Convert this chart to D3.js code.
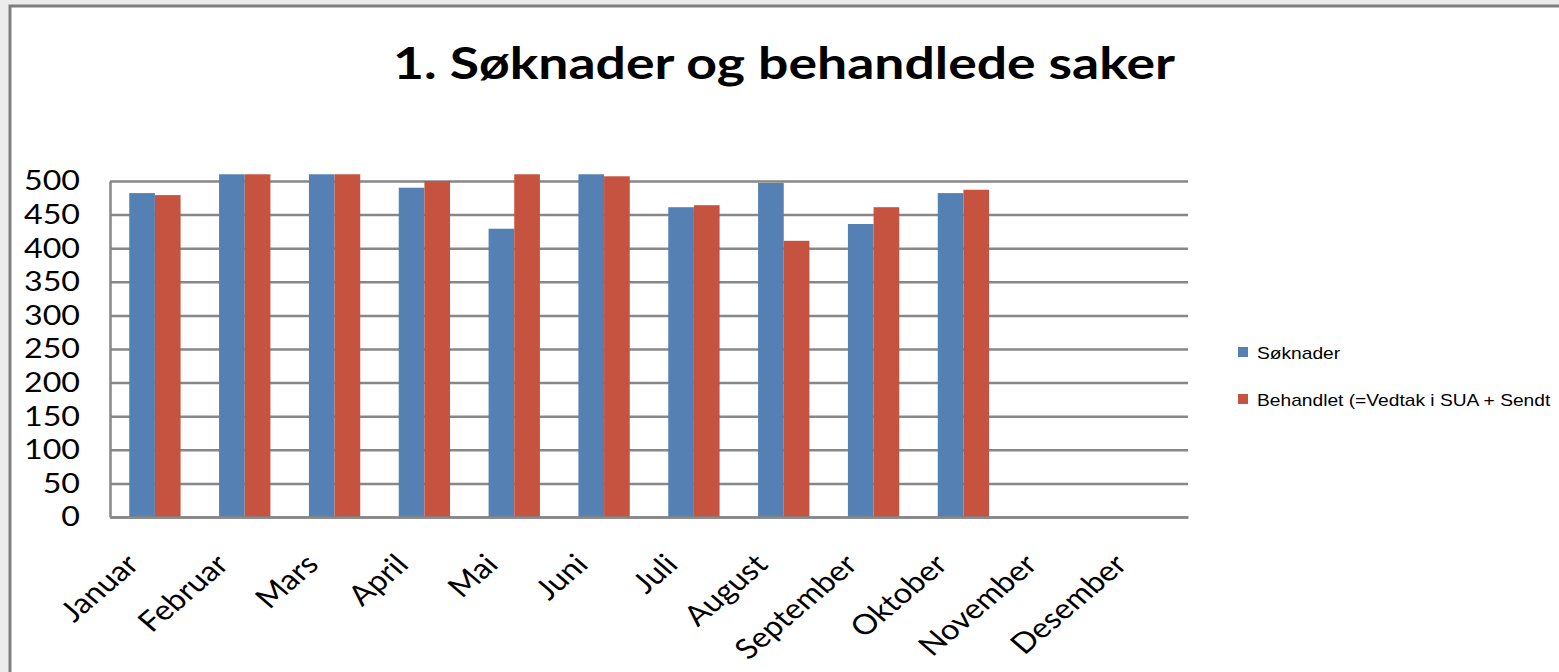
<!DOCTYPE html>
<html>
<head>
<meta charset="utf-8">
<script src="https://cdn.jsdelivr.net/npm/d3@7"></script>
<style>
  html, body { margin: 0; padding: 0; background: #ececec; }
  svg { display: block; }
</style>
</head>
<body>
<div id="chart"></div>
<script>
// data
var months = ["Januar", "Februar", "Mars", "April", "Mai", "Juni", "Juli",
              "August", "September", "Oktober", "November", "Desember"];
var soknader  = [482, 510, 510, 490, 429, 510, 461, 497, 436, 482, null, null];
var behandlet = [479, 510, 510, 500, 510, 507, 464, 411, 461, 487, null, null];
var seriesNames = ["Søknader", "Behandlet (=Vedtak i SUA + Sendt"];
var yTicks = [0, 50, 100, 150, 200, 250, 300, 350, 400, 450, 500];
var title = "1. Søknader og behandlede saker";

var svgWidth = 1559, svgHeight = 672;
var margin = { top: 181, left: 110 };
var width = 1188 - margin.left;
var height = 517 - margin.top;
var stretch = 1.17;   // the source picture is a bit wider than tall
var colors = ["#5580b4", "#c6533f"];

var svg = d3.select("#chart").append("svg")
    .attr("width", svgWidth)
    .attr("height", svgHeight);

// chart frame
svg.append("rect")
    .attr("x", 10).attr("y", 6)
    .attr("width", svgWidth + 20).attr("height", svgHeight + 20)
    .attr("fill", "#fff")
    .attr("stroke", "#7f7f7f")
    .attr("stroke-width", 3);

svg.append("text")
    .attr("x", 393).attr("y", 79)
    .attr("textLength", 782)
    .attr("lengthAdjust", "spacingAndGlyphs")
    .attr("font-family", "Lato, sans-serif")
    .attr("font-weight", "bold")
    .attr("font-size", 43)
    .attr("fill", "#000")
    .text(title);

var g = svg.append("g")
    .attr("transform", "translate(" + margin.left + "," + margin.top + ")");

var x0 = d3.scaleBand().domain(months).range([0, width])
    .paddingInner(1.5 / 3.5).paddingOuter(0.75 / 3.5);
var x1 = d3.scaleBand().domain([0, 1]).range([0, x0.bandwidth()]);
var y = d3.scaleLinear().domain([0, 500]).range([height, 0]);

// y axis + gridlines
var yAxis = g.append("g")
    .call(d3.axisLeft(y).tickValues(yTicks).tickSizeInner(-width).tickSizeOuter(0).tickPadding(30));
yAxis.selectAll("line").attr("stroke", "#878787").attr("stroke-width", 2.5);
yAxis.select(".domain").attr("stroke", "#878787").attr("stroke-width", 2.5);
yAxis.selectAll("text")
    .attr("x", -30 / stretch)
    .attr("transform", "scale(" + stretch + ",1)")
    .attr("font-family", "Lato, sans-serif")
    .attr("font-size", 27.5)
    .attr("fill", "#000");

// bars
var rows = months.map(function(m, i) { return { month: m, values: [soknader[i], behandlet[i]] }; });
g.selectAll(".month")
  .data(rows)
  .enter().append("g")
    .attr("transform", function(d) { return "translate(" + x0(d.month) + ",0)"; })
  .selectAll("rect")
  .data(function(d) { return d.values.map(function(v, k) { return { k: k, v: v }; }).filter(function(e) { return e.v != null; }); })
  .enter().append("rect")
    .attr("x", function(d) { return x1(d.k); })
    .attr("width", x1.bandwidth())
    .attr("y", function(d) { return y(d.v); })
    .attr("height", function(d) { return height - y(d.v); })
    .attr("fill", function(d) { return colors[d.k]; });

// x axis
var xAxis = g.append("g")
    .attr("transform", "translate(0," + height + ")")
    .call(d3.axisBottom(x0).tickSize(0).tickFormat(""));
xAxis.select(".domain").attr("stroke", "#878787").attr("stroke-width", 2.5);

g.selectAll(".xlabel")
  .data(months)
  .enter().append("text")
    .attr("class", "xlabel")
    .attr("transform", function(d) {
        var cx = x0(d) + x0.bandwidth() / 2;
        return "translate(" + (cx - 31) + "," + (height + 35) + ") scale(" + stretch + ",1) rotate(-45)";
    })
    .attr("dy", "0.72em")
    .attr("text-anchor", "end")
    .attr("font-family", "Lato, sans-serif")
    .attr("font-size", 28)
    .attr("fill", "#000")
    .text(function(d) { return d; });

// legend
var legend = svg.selectAll(".legend")
  .data(seriesNames)
  .enter().append("g")
    .attr("transform", function(d, i) { return "translate(1238," + (347 + i * 47) + ")"; });
legend.append("rect")
    .attr("width", 10).attr("height", 10)
    .attr("fill", function(d, i) { return colors[i]; });
legend.append("text")
    .attr("transform", "translate(19,12) scale(1.2,1)")
    .attr("font-family", "'Liberation Sans', Arial, sans-serif")
    .attr("font-size", 16)
    .attr("fill", "#000")
    .text(function(d) { return d; });
</script>
</body>
</html>
